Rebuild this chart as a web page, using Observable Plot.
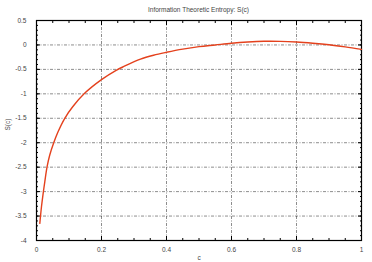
<!DOCTYPE html>
<html>
<head>
<meta charset="utf-8">
<script src="https://cdn.jsdelivr.net/npm/d3@7"></script>
<script src="https://cdn.jsdelivr.net/npm/@observablehq/plot@0.6"></script>
<style>
  html, body { margin: 0; padding: 0; background: #fff; }
  #title { box-sizing: border-box; width: 372px; height: 15px; padding: 6px 11px 0 36px;
    font: 6.5px "Liberation Sans", Arial, sans-serif; line-height: 7px; text-align: center; color: #444; }
</style>
</head>
<body>
<div id="title"></div>
<div id="chart"></div>
<script>
const titleText = "Information Theoretic Entropy: S(c)";
const xLabel = "c";
const yLabel = "S(c)";
const cValues = [0.0102, 0.0153, 0.0204, 0.0255, 0.0326, 0.0408, 0.053, 0.066, 0.087, 0.112, 0.148, 0.2, 0.245, 0.269, 0.32, 0.36, 0.4, 0.45, 0.5, 0.55, 0.6, 0.65, 0.7, 0.75, 0.8, 0.85, 0.9, 0.95, 1.0];
const sValues = [-3.65, -3.31, -3.04, -2.80, -2.49, -2.25, -2.00, -1.78, -1.50, -1.26, -0.99, -0.71, -0.52, -0.44, -0.29, -0.21, -0.15, -0.085, -0.035, 0, 0.035, 0.06, 0.075, 0.074, 0.06, 0.035, 0.003, -0.04, -0.09];
const xTicks = [0, 0.2, 0.4, 0.6, 0.8, 1];
const xTickLabels = ["0", "0.2", "0.4", "0.6", "0.8", "1"];
const yTicks = [-4, -3.5, -3, -2.5, -2, -1.5, -1, -0.5, 0, 0.5];
const yTickLabels = ["-4", "-3.5", "-3", "-2.5", "-2", "-1.5", "-1", "-0.5", "0", "0.5"];
const xMinor = d3.range(0, 1.0001, 0.05).map(v => +v.toFixed(2));
const yMinor = d3.range(-4, 0.5001, 0.1).map(v => +v.toFixed(1));

document.getElementById("title").textContent = titleText;
const data = cValues.map((c, i) => ({c, s: sValues[i]}));
const xFmt = v => xTickLabels[xTicks.findIndex(t => Math.abs(t - v) < 1e-9)] ?? "";
const yFmt = v => yTickLabels[yTicks.findIndex(t => Math.abs(t - v) < 1e-9)] ?? "";
const grid = {stroke: "#000", strokeOpacity: 0.75, strokeWidth: 0.6, strokeDasharray: "3,1.5,1,1.5"};

const chart = Plot.plot({
  width: 372,
  height: 247,
  marginLeft: 36,
  marginRight: 11,
  marginTop: 5,
  marginBottom: 22,
  style: {fontFamily: "'Liberation Sans', Arial, sans-serif", fontSize: "6.5px", color: "#444", background: "#fff"},
  x: {domain: [0, 1]},
  y: {domain: [-4, 0.5]},
  marks: [
    Plot.gridX(xTicks, grid),
    Plot.gridY(yTicks, grid),
    Plot.axisX(xMinor, {anchor: "bottom", tickSize: -2, tickFormat: () => "", label: null, stroke: "#000"}),
    Plot.axisX(xMinor, {anchor: "top", tickSize: -2, tickFormat: () => "", label: null, stroke: "#000"}),
    Plot.axisY(yMinor, {anchor: "left", tickSize: -2, tickFormat: () => "", label: null, stroke: "#000"}),
    Plot.axisY(yMinor, {anchor: "right", tickSize: -2, tickFormat: () => "", label: null, stroke: "#000"}),
    Plot.axisX(xTicks, {anchor: "bottom", tickSize: -4, tickPadding: 11, tickFormat: xFmt, label: null, stroke: "#000", fill: "#444"}),
    Plot.axisX(xTicks, {anchor: "top", tickSize: -4, tickFormat: () => "", label: null, stroke: "#000"}),
    Plot.axisY(yTicks, {anchor: "left", tickSize: -4, tickPadding: 14, tickFormat: yFmt, label: null, stroke: "#000", fill: "#444"}),
    Plot.axisY(yTicks, {anchor: "right", tickSize: -4, tickFormat: () => "", label: null, stroke: "#000"}),
    Plot.frame({stroke: "#000", strokeWidth: 1.2}),
    Plot.line(data, {x: "c", y: "s", stroke: "#e4411d", strokeWidth: 1.4, curve: "catmull-rom"}),
    Plot.text([xLabel], {frameAnchor: "bottom", dy: 19, text: d => d, fill: "#444"}),
    Plot.text([yLabel], {frameAnchor: "left", dx: -29, rotate: -90, text: d => d, fill: "#444"})
  ]
});
document.getElementById("chart").appendChild(chart);
</script>
</body>
</html>
